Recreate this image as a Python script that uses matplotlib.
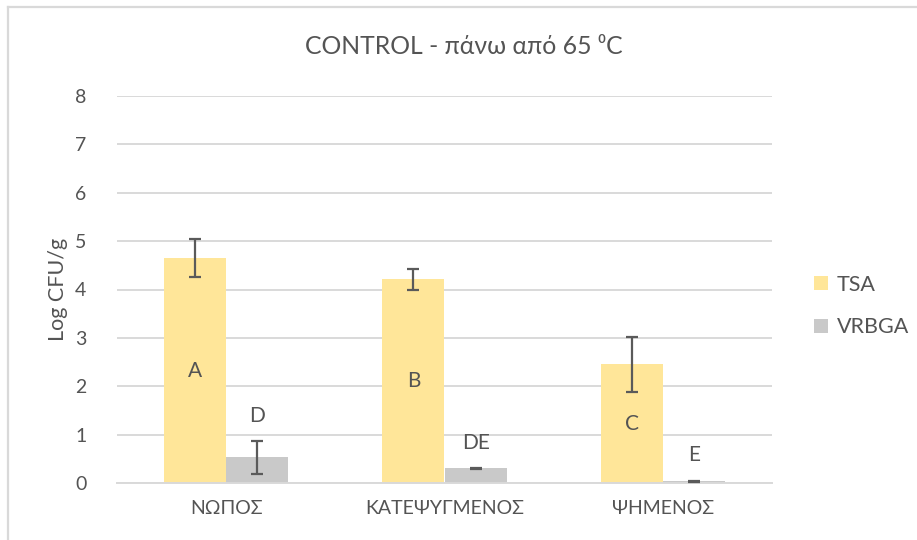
import matplotlib
matplotlib.use("Agg")
import matplotlib.pyplot as plt
from matplotlib.patches import Patch
from matplotlib.lines import Line2D
import numpy as np

# ── Data ────────────────────────────────────────────────────
categories = ["ΝΩΠΟΣ", "ΚΑΤΕΨΥΓΜΕΝΟΣ", "ΨΗΜΕΝΟΣ"]
tsa = [4.65, 4.21, 2.45]
tsa_err = [0.385, 0.22, 0.56]
vrbga = [0.53, 0.30, 0.04]
vrbga_err = [0.335, 0.01, 0.01]
tsa_letters = ["A", "B", "C"]
vrbga_letters = ["D", "DE", "E"]

# ── Style ───────────────────────────────────────────────────
TSA_C = "#FFE699"
VRB_C = "#C9C9C9"
TXT = "#545454"
GRID = "#D9D9D9"
ERR = "#5A5A5A"
FONT = ["Lato", "Noto Sans", "DejaVu Sans"]
plt.rcParams["font.family"] = FONT

fig = plt.figure(figsize=(9.17, 5.40), dpi=100)
ax = fig.add_axes([117 / 917, 1 - 483 / 540, 655 / 917, 387 / 540])

x = np.arange(len(categories))
w = 0.285
ax.bar(x - w / 2, tsa, w, color=TSA_C, zorder=2)
ax.bar(x + w / 2, vrbga, w, color=VRB_C, zorder=2)
ax.errorbar(x - w / 2, tsa, yerr=tsa_err, fmt="none", ecolor=ERR,
            elinewidth=1.6, capsize=4.5, capthick=1.6, zorder=3)
ax.errorbar(x + w / 2, vrbga, yerr=vrbga_err, fmt="none", ecolor=ERR,
            elinewidth=1.6, capsize=4.5, capthick=1.6, zorder=3)

# significance letters: inside TSA bars, above VRBGA error bars
for xi, v, lab in zip(x - w / 2, tsa, tsa_letters):
    ax.text(xi, v / 2, lab, ha="center", va="center", fontsize=15, color=TXT, zorder=4)
for xi, v, e, lab in zip(x + w / 2, vrbga, vrbga_err, vrbga_letters):
    ax.text(xi, v + e + 0.52, lab, ha="center", va="center", fontsize=15, color=TXT, zorder=4)

ax.set_xlim(-0.5, 2.5)
ax.set_ylim(0, 8)
ax.set_yticks(range(0, 9))
ax.set_xticks(x)
ax.set_xticklabels(categories)
ax.yaxis.grid(True, color=GRID, lw=1.4, zorder=0)
ax.set_axisbelow(True)
for s in ["top", "right", "left"]:
    ax.spines[s].set_visible(False)
ax.spines["bottom"].set_color(GRID)
ax.spines["bottom"].set_linewidth(1.4)
ax.tick_params(axis="both", length=0, colors=TXT, labelsize=14)
ax.tick_params(axis="y", pad=22)
ax.tick_params(axis="x", pad=12)
ax.set_ylabel("Log CFU/g", fontsize=15.5, color=TXT, labelpad=5)

fig.text(464 / 917, 1 - 46 / 540, "CONTROL - πάνω από 65 \u2070C", ha="center",
         va="center", fontsize=17.8, color=TXT)

handles = [Patch(facecolor=TSA_C, edgecolor="none", label="TSA"),
           Patch(facecolor=VRB_C, edgecolor="none", label="VRBGA")]
fig.legend(handles=handles, loc="center left", bbox_to_anchor=(795 / 917, 1 - 306 / 540),
           frameon=False, fontsize=15.5, labelcolor=TXT, handlelength=0.65,
           handleheight=0.65, handletextpad=0.4, labelspacing=1.05)

# chart frame (left and top edges)
fig.add_artist(Line2D([8 / 917, 8 / 917], [0, 1 - 7 / 540], color=GRID, lw=1.6,
                      transform=fig.transFigure))
fig.add_artist(Line2D([8 / 917, 1], [1 - 7 / 540, 1 - 7 / 540], color=GRID, lw=1.6,
                      transform=fig.transFigure))

fig.savefig("out.png", dpi=100, facecolor="white")
